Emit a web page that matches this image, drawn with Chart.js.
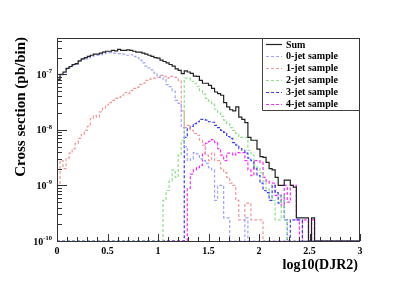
<!DOCTYPE html>
<html><head><meta charset="utf-8">
<script src="https://cdn.jsdelivr.net/npm/chart.js@4/dist/chart.umd.min.js"></script>
<style>html,body{margin:0;padding:0;background:#fff}#wrap{width:407px;height:288px}</style>
</head><body><div id="wrap"><canvas id="c" width="407" height="288"></canvas></div>
<script>
// Histogram binning: 100 bins on log10(DJR2) from 0 to 3
const xMin = 0, xMax = 3, nBins = 100;
const yMin = 1e-10, yMax = 4.5e-7;
const xTickLabels = ['0','0.5','1','1.5','2','2.5','3'];
const yTickExponents = [-10,-9,-8,-7];
const seriesNames = ['Sum','0-jet sample','1-jet sample','2-jet sample','3-jet sample','4-jet sample'];
const xTitle = 'log10(DJR2)';
const yTitle = 'Cross section (pb/bin)';

const sumVals = [7.8e-8,8.1e-8,1.0e-7,1.1e-7,1.28e-7,1.38e-7,1.5e-7,1.55e-7,1.75e-7,1.9e-7,
2.0e-7,2.1e-7,2.2e-7,2.3e-7,2.3e-7,2.4e-7,2.5e-7,2.6e-7,2.6e-7,2.7e-7,
2.65e-7,2.8e-7,2.7e-7,2.7e-7,2.75e-7,2.7e-7,2.6e-7,2.5e-7,2.5e-7,2.4e-7,
2.3e-7,2.2e-7,2.1e-7,2.0e-7,1.95e-7,1.8e-7,1.7e-7,1.6e-7,1.5e-7,1.4e-7,
1.25e-7,1.18e-7,1.03e-7,1.15e-7,1.1e-7,1.04e-7,9.3e-8,9.2e-8,7.8e-8,6.9e-8,
6.9e-8,6.3e-8,5.6e-8,4.8e-8,4.5e-8,4.2e-8,3.1e-8,2.6e-8,2.3e-8,2.2e-8,
2.6e-8,1.7e-8,1.55e-8,1.35e-8,7.3e-9,6.5e-9,6.5e-9,4.5e-9,3.3e-9,3.2e-9,
2.6e-9,2.0e-9,1.9e-9,1.4e-9,1.0e-9,1.0e-9,1.25e-9,1.25e-9,1.0e-9,9.3e-10,
2.6e-10,2.6e-10,2.6e-10,2.6e-10,0,2.6e-10,0,0,0,0,
0,0,0,0,0,0,0,0,0,0];

const jet0Vals = [7.6e-8,8.0e-8,9.8e-8,1.08e-7,1.25e-7,1.35e-7,1.45e-7,1.5e-7,1.7e-7,1.85e-7,
1.9e-7,2.0e-7,2.1e-7,2.15e-7,2.2e-7,2.25e-7,2.35e-7,2.4e-7,2.45e-7,2.4e-7,
2.4e-7,2.35e-7,2.3e-7,2.3e-7,2.2e-7,2.25e-7,2.1e-7,2.0e-7,1.8e-7,1.6e-7,
1.4e-7,1.3e-7,1.2e-7,1.05e-7,9.5e-8,8.8e-8,8.0e-8,6.5e-8,6.0e-8,5.0e-8,
3.4e-8,3.0e-8,1.1e-8,5.0e-9,2.8e-9,3.0e-9,3.9e-9,3.7e-9,3.0e-9,2.8e-9,
2.5e-9,2.1e-9,1.9e-9,5.4e-10,1.0e-9,1.0e-9,2.6e-10,2.6e-10,0,0,
0,0,0,2.6e-10,0,0,0,0,0,0,
0,0,0,0,0,0,0,0,0,0,
0,0,0,0,0,0,0,0,0,0,
0,0,0,0,0,0,0,0,0,0];

const jet1Vals = [0,1.0e-9,2.8e-9,2.0e-9,3.1e-9,3.8e-9,4.6e-9,5.7e-9,7.0e-9,8.3e-9,
9.8e-9,1.16e-8,1.6e-8,1.8e-8,1.7e-8,2.1e-8,2.45e-8,2.8e-8,3.1e-8,3.4e-8,
3.7e-8,3.85e-8,4.2e-8,4.7e-8,4.5e-8,5.1e-8,5.6e-8,5.8e-8,6.6e-8,6.9e-8,
7.8e-8,8.1e-8,8.5e-8,8.5e-8,8.8e-8,9.6e-8,9.2e-8,8.5e-8,9.2e-8,9.2e-8,
8.8e-8,7.8e-8,2.2e-8,1.1e-8,1.2e-8,9.8e-9,8.6e-9,8.0e-9,6.5e-9,5.3e-9,
3.5e-9,2.8e-9,3.8e-9,2.8e-9,2.8e-9,2.0e-9,1.7e-9,1.4e-9,1.1e-9,1.0e-9,
5.4e-10,2.4e-10,2.4e-10,4.8e-10,4.8e-10,2.4e-10,2.4e-10,2.4e-10,2.4e-10,0,
0,0,0,0,0,0,0,0,0,0,
0,0,0,0,0,0,0,0,0,0,
0,0,0,0,0,0,0,0,0,0];

const jet2Vals = [0,0,0,0,0,0,0,0,0,0,
0,0,0,0,0,0,0,0,0,0,
0,0,0,0,0,0,0,0,0,0,
0,0,0,0,0,0,5.4e-10,8.1e-10,1.2e-9,1.9e-9,
1.4e-9,3.5e-9,6.5e-9,8.5e-8,8.5e-8,7.5e-8,6.9e-8,6.1e-8,5.1e-8,4.4e-8,
3.7e-8,3.3e-8,2.9e-8,2.35e-8,2.0e-8,1.75e-8,1.5e-8,1.3e-8,1.1e-8,9.8e-9,
8.6e-9,7.3e-9,7.3e-9,7.3e-9,4.3e-9,3.5e-9,2.3e-9,2.1e-9,1.7e-9,1.2e-9,
8.8e-10,6.6e-10,5.4e-10,2.4e-10,2.4e-10,6.6e-10,2.4e-10,0,0,0,
0,0,0,0,0,0,0,0,0,0,
0,0,0,0,0,0,0,0,0,0];

const jet3Vals = [0,0,0,0,0,0,0,0,0,0,
0,0,0,0,0,0,0,0,0,0,
0,0,0,0,0,0,0,0,0,0,
0,0,0,0,0,0,0,0,0,0,
0,0,0,7.3e-9,1.07e-8,1.16e-8,1.3e-8,1.4e-8,1.55e-8,1.55e-8,
1.5e-8,1.4e-8,1.37e-8,1.2e-8,1.1e-8,9.8e-9,9.0e-9,7.6e-9,7.0e-9,5.9e-9,
5.3e-9,4.6e-9,4.3e-9,3.8e-9,3.1e-9,2.8e-9,2.0e-9,1.5e-9,1.1e-9,8.1e-10,
7.4e-10,5.4e-10,1.0e-9,7.4e-10,4.8e-10,6.6e-10,2.4e-10,0,2.4e-10,2.4e-10,
2.4e-10,2.4e-10,0,0,0,0,0,0,0,0,
0,0,0,0,0,0,0,0,0,0];

const jet4Vals = [0,0,0,0,0,0,0,0,0,0,
0,0,0,0,0,0,0,0,0,0,
0,0,0,0,0,0,0,0,0,0,
0,0,0,0,0,0,0,0,0,0,
0,0,0,0,8.8e-10,1.6e-9,1.9e-9,2.1e-9,2.3e-9,3.8e-9,
5.7e-9,6.2e-9,6.7e-9,5.9e-9,4.6e-9,3.5e-9,2.8e-9,3.8e-9,3.8e-9,3.5e-9,
3.9e-9,3.9e-9,3.9e-9,2.8e-9,1.9e-9,1.5e-9,2.8e-9,2.8e-9,2.6e-9,1.4e-9,
1.2e-9,1.1e-9,1.1e-9,6.6e-10,6.6e-10,4.3e-10,1.0e-9,5.0e-10,1.0e-9,1.0e-9,
2.4e-10,0,2.4e-10,2.4e-10,0,2.4e-10,0,0,0,0,
0,0,0,0,0,0,0,0,0,0];

const seriesValues = [sumVals, jet0Vals, jet1Vals, jet2Vals, jet3Vals, jet4Vals];
const seriesColors = ['#222222','#a0a4ff','#f09a9a','#8fe08f','#3a3aff','#ff2cff'];
const seriesDash = [[], [3,2], [3,2], [3,2], [3,2], [3,2]];

function stepPoints(vals){
  const w = (xMax - xMin) / vals.length;
  const pts = [];
  for (let i = 0; i < vals.length; i++) {
    pts.push({x: xMin + i*w, y: vals[i] > 0 ? vals[i] : yMin});
  }
  pts.push({x: xMax, y: vals[vals.length-1] > 0 ? vals[vals.length-1] : yMin});
  return pts;
}

const FONT = '"Liberation Serif", "Times New Roman", serif';

const rootAxes = {
  id: 'rootAxes',
  afterDraw(chart){
    const ctx = chart.ctx, ca = chart.chartArea;
    const xs = chart.scales.x, ys = chart.scales.y;
    ctx.save();
    ctx.strokeStyle = '#333';
    ctx.lineWidth = 1;
    // frame
    ctx.strokeRect(Math.round(ca.left)+0.5, Math.round(ca.top)+0.5, Math.round(ca.right-ca.left)-1, Math.round(ca.bottom-ca.top));
    // x ticks
    ctx.beginPath();
    for (let k = 0; k <= 30; k++) {
      const v = k/10;
      const px = Math.round(xs.getPixelForValue(v)) + 0.5;
      const len = (k % 5 === 0) ? 7 : 4;
      ctx.moveTo(px, ca.bottom); ctx.lineTo(px, ca.bottom - len);
    }
    // y ticks
    for (let e = -10; e <= -7; e++) {
      for (let m = 1; m <= 9; m++) {
        const v = m*Math.pow(10,e);
        if (v > yMax*1.0001 || v < yMin*0.9999) continue;
        const py = Math.round(ys.getPixelForValue(v)) + 0.5;
        const len = (m === 1) ? 10 : 5;
        ctx.moveTo(ca.left, py); ctx.lineTo(ca.left + len, py);
      }
    }
    ctx.stroke();
    // x tick labels
    ctx.fillStyle = '#000';
    ctx.font = 'bold 10px ' + FONT;
    ctx.textAlign = 'center';
    ctx.textBaseline = 'alphabetic';
    xTickLabels.forEach((lab) => {
      const px = xs.getPixelForValue(parseFloat(lab));
      ctx.fillText(lab, px, 254);
    });
    // y tick labels 10^e
    yTickExponents.forEach((e) => {
      const py = ys.getPixelForValue(Math.pow(10,e));
      const sup = String(e);
      ctx.font = 'bold 6.5px ' + FONT;
      const ws = ctx.measureText(sup).width;
      ctx.textAlign = 'left';
      const right = 52;
      ctx.fillText(sup, right - ws, py - 1);
      ctx.font = 'bold 10px ' + FONT;
      const wb = ctx.measureText('10').width;
      ctx.fillText('10', right - ws - wb, py + 3.5);
    });
    // x title
    ctx.font = 'bold 14px ' + FONT;
    ctx.textAlign = 'right';
    ctx.fillText(xTitle, 358, 269);
    // y title
    ctx.save();
    ctx.translate(25, 37);
    ctx.rotate(-Math.PI/2);
    ctx.font = 'bold 15px ' + FONT;
    ctx.textAlign = 'right';
    ctx.fillText(yTitle, 0, 0);
    ctx.restore();
    // legend
    const lx0 = 262, ly0 = Math.round(ca.top), lx1 = Math.round(ca.right), ly1 = 110;
    ctx.fillStyle = '#fff';
    ctx.fillRect(lx0, ly0+1, lx1-lx0-1, ly1-ly0-1);
    ctx.strokeStyle = '#444';
    ctx.beginPath();
    ctx.moveTo(lx0+0.5, ly0); ctx.lineTo(lx0+0.5, ly1+0.5); ctx.lineTo(lx1, ly1+0.5);
    ctx.stroke();
    ctx.font = 'bold 10px ' + FONT;
    ctx.textAlign = 'left';
    seriesNames.forEach((name, i) => {
      const cy = 44 + i*11.9;
      ctx.strokeStyle = seriesColors[i];
      ctx.lineWidth = 1.2;
      ctx.setLineDash(seriesDash[i]);
      ctx.beginPath();
      ctx.moveTo(266, Math.round(cy)+0.5); ctx.lineTo(282, Math.round(cy)+0.5);
      ctx.stroke();
      ctx.setLineDash([]);
      ctx.fillStyle = '#000';
      ctx.fillText(name, 286, cy + 3.5);
    });
    ctx.restore();
  }
};

new Chart(document.getElementById('c'), {
  type: 'line',
  data: {
    datasets: seriesValues.map((vals, i) => ({
      label: seriesNames[i],
      data: stepPoints(vals),
      borderColor: seriesColors[i],
      borderWidth: 1.2,
      borderDash: seriesDash[i],
      stepped: 'after',
      pointRadius: 0,
      fill: false,
      tension: 0
    }))
  },
  options: {
    responsive: false,
    animation: false,
    devicePixelRatio: 1,
    layout: { padding: { left: 57, right: 47, top: 38, bottom: 47 } },
    plugins: { legend: { display: false }, tooltip: { enabled: false } },
    scales: {
      x: { type: 'linear', min: xMin, max: xMax, display: false },
      y: { type: 'logarithmic', min: yMin, max: yMax, display: false }
    }
  },
  plugins: [rootAxes]
});
</script>
</body></html>
